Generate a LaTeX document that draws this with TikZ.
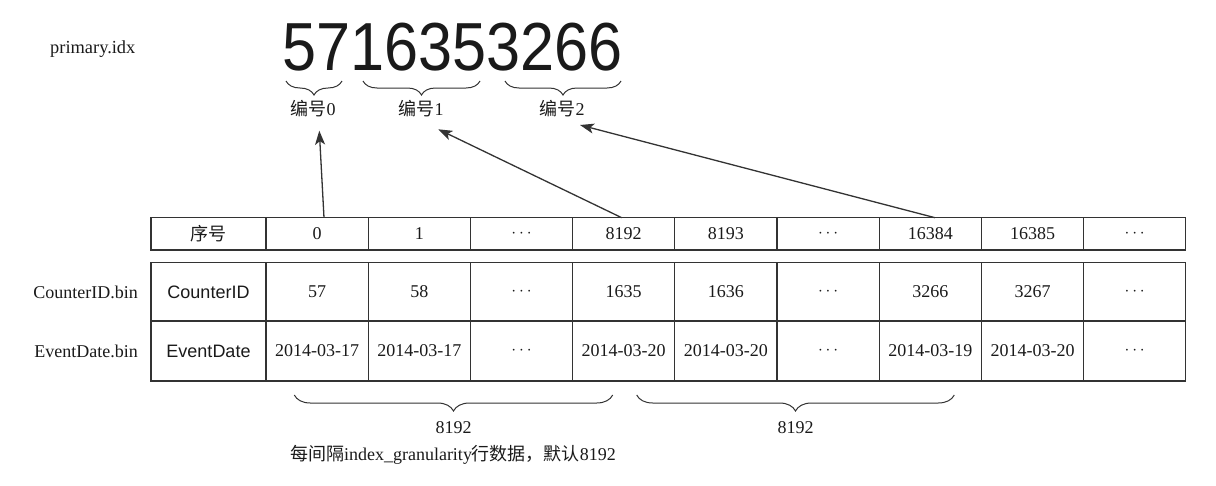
\documentclass[tikz,border=0pt]{standalone}
\usepackage{fontspec}
\usepackage{graphicx}
\setmainfont{Liberation Serif}
\setsansfont{Liberation Sans}
\newfontfamily\cjk{Noto Sans CJK SC}
\usetikzlibrary{arrows.meta,decorations.pathreplacing,calc}
\definecolor{ln}{HTML}{333333}
\definecolor{tx}{HTML}{1A1A1A}
\newcommand{\mydots}{{\fontsize{17}{18}\selectfont$\cdots$}}
\tikzset{
  txt/.style={inner sep=0pt, text=tx, font=\fontsize{18}{20}\selectfont},
  cell/.style={txt, draw=ln, line width=1.3pt, minimum width=102.2pt},
  hcell/.style={cell, minimum height=32.3pt},
  ccell/.style={cell, minimum height=58.3pt},
  ecell/.style={cell, minimum height=60pt},
  arr/.style={draw=ln, line width=1.3pt, -{Stealth[length=14pt,width=10pt,inset=3.5pt]}},
  topbrace/.style={draw=ln, line width=1pt, decorate, decoration={brace, mirror, amplitude=14pt}},
  botbrace/.style={draw=ln, line width=1pt, decorate, decoration={brace, mirror, amplitude=16pt}},
}
\begin{document}
\begin{tikzpicture}[x=1pt,y=-1pt]
\useasboundingbox (0,0) rectangle (1216,485);
% top labels
\node[txt, anchor=base west] (pidx) at (50,53) {\fontsize{18.4}{20}\selectfont primary.idx};
\node[inner sep=0pt, text=tx, anchor=base, font=\sffamily\fontsize{68}{70}\selectfont] (digits) at (452.5,70) {\scalebox{0.9}[1]{5716353266}};
% top braces
\coordinate (b0a) at (286,81); \coordinate (b0b) at (342,81);
\coordinate (b1a) at (363,81); \coordinate (b1b) at (480,81);
\coordinate (b2a) at (505,81); \coordinate (b2b) at (621,81);
\draw[topbrace] (b0a) -- (b0b);
\draw[topbrace] (b1a) -- (b1b);
\draw[topbrace] (b2a) -- (b2b);
\node[txt, anchor=base] (l0) at (313,115) {{\cjk 编号}0};
\node[txt, anchor=base] (l1) at (421,115) {{\cjk 编号}1};
\node[txt, anchor=base] (l2) at (562,115) {{\cjk 编号}2};
% table first column
\node[hcell, minimum width=115pt] (h0) at (208.5,233.85) {\cjk 序号};
\node[ccell, minimum width=115pt, font=\sffamily\fontsize{18}{20}\selectfont] (c0) at (208.5,291.85) {CounterID};
\node[ecell, minimum width=115pt, font=\sffamily\fontsize{18}{20}\selectfont] (e0) at (208.5,351) {EventDate};
\foreach \i/\h/\c/\e in {1/0/57/2014-03-17, 2/1/58/2014-03-17, 3/\mydots/\mydots/\mydots, 4/8192/1635/2014-03-20, 5/8193/1636/2014-03-20, 6/\mydots/\mydots/\mydots, 7/16384/3266/2014-03-19, 8/16385/3267/2014-03-20, 9/\mydots/\mydots/\mydots}{
  \pgfmathsetmacro\xc{266+102.2*(\i-0.5)}
  \node[hcell] (h\i) at (\xc,233.85) {\h};
  \node[ccell] (c\i) at (\xc,291.85) {\c};
  \node[ecell] (e\i) at (\xc,351) {\e};
}
% row labels
\node[txt, anchor=east] (cbin) at (138,292) {CounterID.bin};
\node[txt, anchor=east] (ebin) at (138,351) {EventDate.bin};
% arrows
\coordinate (a0s) at (324,217.7); \coordinate (a0e) at (319.3,130.7);
\coordinate (a1s) at (621.7,217.7); \coordinate (a1e) at (438.3,129.3);
\coordinate (a2s) at (935,217.7); \coordinate (a2e) at (580,125);
\draw[arr] (a0s) -- (a0e);
\draw[arr] (a1s) -- (a1e);
\draw[arr] (a2s) -- (a2e);
% bottom braces
\coordinate (d1a) at (294.3,395); \coordinate (d1b) at (612.7,395);
\coordinate (d2a) at (636.7,395); \coordinate (d2b) at (954.3,395);
\draw[botbrace] (d1a) -- (d1b);
\draw[botbrace] (d2a) -- (d2b);
\node[txt, anchor=base] (n1) at (453.5,433) {8192};
\node[txt, anchor=base] (n2) at (795.5,433) {8192};
\node[txt, anchor=base] (note) at (453,460) {{\cjk 每间隔}index\_granularity{\cjk 行数据，默认}8192};
\end{tikzpicture}
\end{document}
